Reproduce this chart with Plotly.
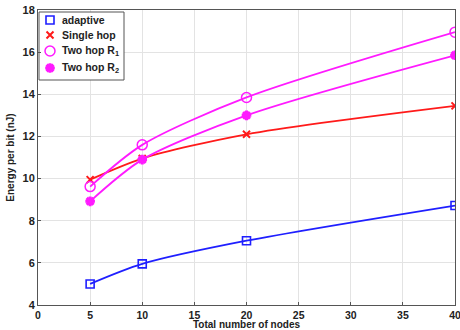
import plotly.graph_objects as go

nodes = [5, 10, 20, 40]
adaptive = [5.0, 5.95, 7.05, 8.72]
single_hop = [9.95, 10.95, 12.1, 13.45]
two_hop_r1 = [9.62, 11.6, 13.85, 16.95]
two_hop_r2 = [8.92, 10.9, 13.0, 15.85]

names = ["adaptive", "Single hop", "Two hop R<sub>1</sub>", "Two hop R<sub>2</sub>"]
values = [adaptive, single_hop, two_hop_r1, two_hop_r2]
colors = ["#1f1fff", "#ff1a1a", "#ff1aff", "#ff1aff"]
symbols = ["square-open", "x-thin-open", "circle-open", "asterisk-open"]
sizes = [8, 7, 10, 8]
mlw = [1.6, 2, 1.5, 3]

FONT = "Arial, Liberation Sans"
fig = go.Figure()
for name, vals, col, sym, sz, lw in zip(names, values, colors, symbols, sizes, mlw):
    fig.add_trace(go.Scatter(
        x=nodes, y=vals, name=name, mode="lines+markers", showlegend=False,
        line=dict(color=col, width=1.8, shape="spline", smoothing=0.8),
        marker=dict(symbol=sym, size=sz, color=col, line=dict(color=col, width=lw)),
    ))

# manual legend on a pixel-scaled overlay axis
L, R, T, B = 38, 455, 10, 305
leg_y = [20, 35, 51, 68]
bx0, bx1, by0, by1 = L + 1, 124, T + 2, 80
fig.add_trace(go.Scatter(
    x=[bx0, bx1, bx1, bx0, bx0], y=[by0, by0, by1, by1, by0], xaxis="x2", yaxis="y2",
    mode="lines", fill="toself", fillcolor="white", line=dict(color="#555555", width=1),
    showlegend=False, hoverinfo="skip"))
for name, col, sym, sz, lw, yy in zip(names, colors, symbols, sizes, mlw, leg_y):
    fig.add_trace(go.Scatter(
        x=[50], y=[yy], xaxis="x2", yaxis="y2", mode="markers", showlegend=False,
        marker=dict(symbol=sym, size=sz, color=col, line=dict(color=col, width=lw)),
        hoverinfo="skip",
    ))
    fig.add_annotation(x=60, y=yy, xref="x2", yref="y2", text="<b>%s</b>" % name,
                       showarrow=False, xanchor="left", yanchor="middle",
                       font=dict(family=FONT, size=10.5, color="#222222"))

# x title at a fixed pixel row below the tick labels
fig.add_annotation(x=0.5, y=-(324.5 - B) / (B - T), xref="paper", yref="paper",
                   yanchor="middle", text="<b>Total number of nodes</b>", showarrow=False,
                   font=dict(family=FONT, size=10, color="#222222"))

axis_common = dict(
    showgrid=True, gridcolor="#e3e3e3", gridwidth=1,
    showline=True, linecolor="#555555", linewidth=1, mirror=True,
    ticks="inside", ticklen=3, tickcolor="#555555",
    zeroline=False, ticklabeloverflow="allow", automargin=False,
)
fig.update_layout(
    xaxis=dict(range=[0, 40], dtick=5, tick0=0,
               tickfont=dict(family=FONT, size=10.5, color="#222222", weight="bold"),
               **axis_common),
    yaxis=dict(range=[4, 18], dtick=2, tick0=4,
               tickfont=dict(family=FONT, size=11, color="#222222", weight="bold"),
               title=dict(text="<b>Energy per bit (nJ)</b>", standoff=6,
                          font=dict(family=FONT, size=10, color="#222222")),
               **axis_common),
    xaxis2=dict(range=[L, R], overlaying="x", visible=False, fixedrange=True),
    yaxis2=dict(range=[B, T], overlaying="y", visible=False, fixedrange=True),
    width=460, height=330,
    margin=dict(l=L, r=460 - R, t=T, b=330 - B, autoexpand=False),
    paper_bgcolor="white", plot_bgcolor="white",
    showlegend=False,
)
fig.write_html("out.html")
